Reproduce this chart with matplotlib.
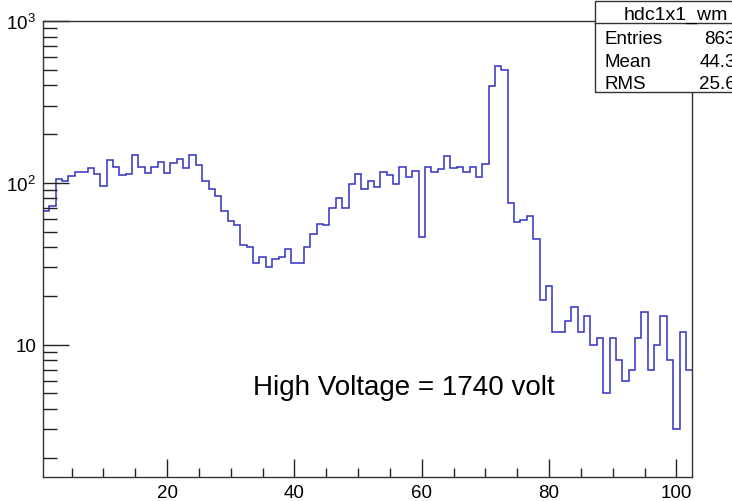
import matplotlib.pyplot as plt
import matplotlib.ticker as mticker
from matplotlib.patches import Rectangle
import numpy as np

plt.rcParams['font.family'] = ['Liberation Sans', 'DejaVu Sans']
plt.rcParams['mathtext.fontset'] = 'custom'
plt.rcParams['mathtext.rm'] = 'Liberation Sans'

# bin contents of hdc1x1_wm, bins of width 1 centred on 1..102
counts = [67, 72, 105, 102, 110, 117, 116, 123, 113, 96,
          138, 126, 112, 113, 149, 125, 115, 126, 134, 115,
          133, 141, 124, 149, 128, 103, 91, 83, 67, 58,
          55, 41, 40, 32, 35, 30, 34, 35, 39, 32,
          32, 40, 48, 56, 55, 70, 81, 70, 99, 113,
          92, 103, 94, 117, 111, 98, 126, 109, 118, 46,
          125, 116, 122, 146, 123, 126, 117, 125, 108, 131,
          395, 529, 500, 75, 57, 59, 62, 45, 19, 23,
          12, 12, 14, 17, 12, 15, 10, 11, 5, 11,
          8, 6, 7, 11, 16, 7, 10, 15, 8, 3,
          12, 7]
x_low, x_high = 0.5, 102.5

hist_name = 'hdc1x1_wm'
note = 'High Voltage = 1740 volt'

W, H = 732, 502


def main():
    counts_arr = np.array(counts, dtype=float)
    edges = np.linspace(x_low, x_high, len(counts) + 1)
    centers = 0.5 * (edges[:-1] + edges[1:])

    fig = plt.figure(figsize=(W / 100, H / 100), dpi=100)
    ax = fig.add_axes([43 / W, 1 - 478 / H, (692.3 - 43) / W, (478 - 22) / H])

    ax.stairs(counts_arr, edges, baseline=None, color='#3030c4', linewidth=1.1)

    ax.set_yscale('log')
    ax.set_xlim(x_low, x_high)
    ax.set_ylim(1.52, 1000)

    ax.xaxis.set_major_locator(mticker.FixedLocator([20, 40, 60, 80, 100]))
    ax.xaxis.set_minor_locator(mticker.FixedLocator(np.arange(5, 101, 5)))
    ax.yaxis.set_major_locator(mticker.FixedLocator([10, 100, 1000]))
    ax.yaxis.set_major_formatter(mticker.FixedFormatter(
        ['10', r'$\mathregular{10^{2}}$', r'$\mathregular{10^{3}}$']))
    ax.yaxis.set_minor_locator(mticker.LogLocator(base=10, subs=np.arange(2, 10)))
    ax.yaxis.set_minor_formatter(mticker.NullFormatter())

    ax.tick_params(axis='both', which='both', direction='in', colors='#222222',
                   labelcolor='black', labelsize=13.5, width=1)
    ax.tick_params(axis='x', which='major', length=13, pad=5)
    ax.tick_params(axis='x', which='minor', length=6.5)
    ax.tick_params(axis='y', which='major', length=19, pad=5)
    ax.tick_params(axis='y', which='minor', length=10)
    for side in ax.spines.values():
        side.set_color('#333333')
        side.set_linewidth(1)

    fig.text(252.7 / W, 1 - 395 / H, note, fontsize=20, va='baseline', ha='left')

    # stats box, cut off by the right edge like the original
    entries = counts_arr.sum()
    mean = (centers * counts_arr).sum() / entries
    rms = np.sqrt((counts_arr * (centers - mean) ** 2).sum() / entries)

    box = Rectangle((595 / W, 1 - 93 / H), 200 / W, 91 / H, transform=fig.transFigure,
                    facecolor='white', edgecolor='#333333', linewidth=1, zorder=5)
    fig.add_artist(box)
    fig.add_artist(plt.Line2D([595 / W, 800 / W], [1 - 24 / H, 1 - 24 / H],
                              transform=fig.transFigure, color='#333333', linewidth=1, zorder=6))
    fig.text(624 / W, 1 - 19.5 / H, hist_name, fontsize=14, va='baseline', zorder=7)
    rows = [('Entries', f'{entries:.0f}'), ('Mean', f'{mean:.2f}'), ('RMS', f'{rms:.2f}')]
    for i, (label, value) in enumerate(rows):
        yb = 1 - (44 + 22.7 * i) / H
        fig.text(604 / W, yb, label, fontsize=13.5, va='baseline', zorder=7)
        fig.text(746 / W, yb, value, fontsize=13.5, va='baseline', ha='right', zorder=7)

    fig.savefig('out.png', dpi=100)


if __name__ == "__main__":
    main()
